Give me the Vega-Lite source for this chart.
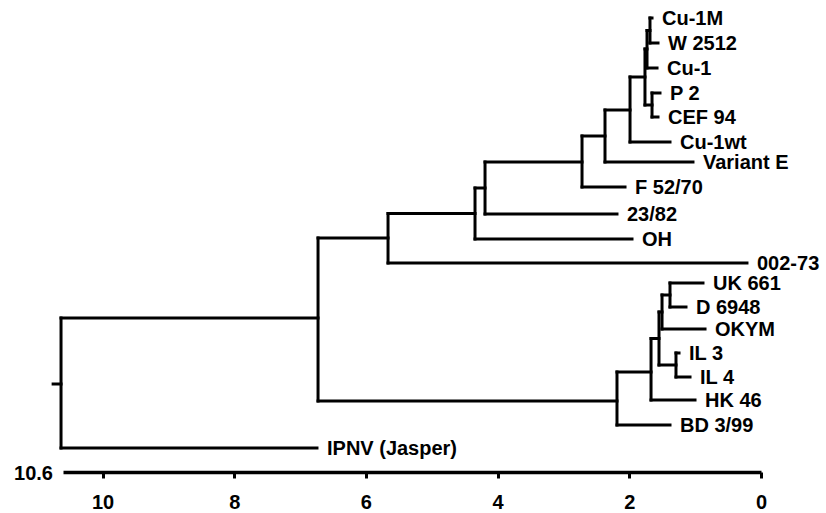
{
  "$schema": "https://vega.github.io/schema/vega-lite/v6.json",
  "width": 698,
  "height": 472,
  "autosize": {"type": "none"},
  "padding": {"left": 63, "top": 0, "right": 65, "bottom": 41},
  "background": "white",
  "config": {"view": {"stroke": null}},
  "datasets": {
    "segments": [
      {"x": 1.686, "x2": 1.686, "y": 18, "y2": 43},
      {"x": 1.686, "x2": 1.655, "y": 18, "y2": 18},
      {"x": 1.686, "x2": 1.564, "y": 43, "y2": 43},
      {"x": 1.731, "x2": 1.731, "y": 30.5, "y2": 68},
      {"x": 1.731, "x2": 1.686, "y": 30.5, "y2": 30.5},
      {"x": 1.731, "x2": 1.579, "y": 68, "y2": 68},
      {"x": 1.655, "x2": 1.655, "y": 93, "y2": 117},
      {"x": 1.655, "x2": 1.534, "y": 93, "y2": 93},
      {"x": 1.655, "x2": 1.564, "y": 117, "y2": 117},
      {"x": 1.762, "x2": 1.762, "y": 49, "y2": 105},
      {"x": 1.762, "x2": 1.731, "y": 49, "y2": 49},
      {"x": 1.762, "x2": 1.655, "y": 105, "y2": 105},
      {"x": 1.989, "x2": 1.989, "y": 77, "y2": 142},
      {"x": 1.989, "x2": 1.762, "y": 77, "y2": 77},
      {"x": 1.989, "x2": 1.382, "y": 142, "y2": 142},
      {"x": 2.369, "x2": 2.369, "y": 110, "y2": 162},
      {"x": 2.369, "x2": 1.989, "y": 110, "y2": 110},
      {"x": 2.369, "x2": 1.033, "y": 162, "y2": 162},
      {"x": 2.718, "x2": 2.718, "y": 136, "y2": 187},
      {"x": 2.718, "x2": 2.369, "y": 136, "y2": 136},
      {"x": 2.718, "x2": 2.065, "y": 187, "y2": 187},
      {"x": 4.191, "x2": 4.191, "y": 162, "y2": 214},
      {"x": 4.191, "x2": 2.718, "y": 162, "y2": 162},
      {"x": 4.191, "x2": 2.187, "y": 214, "y2": 214},
      {"x": 4.343, "x2": 4.343, "y": 188, "y2": 239},
      {"x": 4.343, "x2": 4.191, "y": 188, "y2": 188},
      {"x": 4.343, "x2": 1.959, "y": 239, "y2": 239},
      {"x": 5.664, "x2": 5.664, "y": 213.5, "y2": 263},
      {"x": 5.664, "x2": 4.343, "y": 213.5, "y2": 213.5},
      {"x": 5.664, "x2": 0.213, "y": 263, "y2": 263},
      {"x": 1.382, "x2": 1.382, "y": 283, "y2": 307},
      {"x": 1.382, "x2": 0.881, "y": 283, "y2": 283},
      {"x": 1.382, "x2": 1.139, "y": 307, "y2": 307},
      {"x": 1.503, "x2": 1.503, "y": 295, "y2": 329},
      {"x": 1.503, "x2": 1.382, "y": 295, "y2": 295},
      {"x": 1.503, "x2": 0.85, "y": 329, "y2": 329},
      {"x": 1.291, "x2": 1.291, "y": 353, "y2": 377},
      {"x": 1.291, "x2": 1.245, "y": 353, "y2": 353},
      {"x": 1.291, "x2": 1.078, "y": 377, "y2": 377},
      {"x": 1.549, "x2": 1.549, "y": 312, "y2": 365},
      {"x": 1.549, "x2": 1.503, "y": 312, "y2": 312},
      {"x": 1.549, "x2": 1.291, "y": 365, "y2": 365},
      {"x": 1.67, "x2": 1.67, "y": 338.5, "y2": 400},
      {"x": 1.67, "x2": 1.549, "y": 338.5, "y2": 338.5},
      {"x": 1.67, "x2": 1.002, "y": 400, "y2": 400},
      {"x": 2.187, "x2": 2.187, "y": 372, "y2": 425},
      {"x": 2.187, "x2": 1.67, "y": 372, "y2": 372},
      {"x": 2.187, "x2": 1.382, "y": 425, "y2": 425},
      {"x": 6.727, "x2": 6.727, "y": 238, "y2": 401},
      {"x": 6.727, "x2": 5.664, "y": 238, "y2": 238},
      {"x": 6.727, "x2": 2.187, "y": 401, "y2": 401},
      {"x": 10.63, "x2": 10.63, "y": 318, "y2": 448},
      {"x": 10.63, "x2": 6.727, "y": 318, "y2": 318},
      {"x": 10.63, "x2": 6.743, "y": 448, "y2": 448},
      {"x": 10.75, "x2": 10.63, "y": 384, "y2": 384}
    ],
    "leaves": [
      {"name": "Cu-1M", "x": 1.655, "y": 18},
      {"name": "W 2512", "x": 1.564, "y": 43},
      {"name": "Cu-1", "x": 1.579, "y": 68},
      {"name": "P 2", "x": 1.534, "y": 93},
      {"name": "CEF 94", "x": 1.564, "y": 117},
      {"name": "Cu-1wt", "x": 1.382, "y": 142},
      {"name": "Variant E", "x": 1.033, "y": 162},
      {"name": "F 52/70", "x": 2.065, "y": 187},
      {"name": "23/82", "x": 2.187, "y": 214},
      {"name": "OH", "x": 1.959, "y": 239},
      {"name": "002-73", "x": 0.213, "y": 263},
      {"name": "UK 661", "x": 0.881, "y": 283},
      {"name": "D 6948", "x": 1.139, "y": 307},
      {"name": "OKYM", "x": 0.85, "y": 329},
      {"name": "IL 3", "x": 1.245, "y": 353},
      {"name": "IL 4", "x": 1.078, "y": 377},
      {"name": "HK 46", "x": 1.002, "y": 400},
      {"name": "BD 3/99", "x": 1.382, "y": 425},
      {"name": "IPNV (Jasper)", "x": 6.743, "y": 448}
    ],
    "axisstart": [{"name": "10.6", "x": 10.6, "y": 472}]
  },
  "layer": [
    {
      "data": {"name": "segments"},
      "mark": {"type": "rule", "color": "black", "strokeWidth": 3, "strokeCap": "square"},
      "encoding": {
        "x": {
          "field": "x", "type": "quantitative",
          "scale": {"domain": [0, 10.6], "reverse": true, "nice": false, "zero": false},
          "axis": {
            "title": null, "grid": false, "values": [10, 8, 6, 4, 2, 0], "format": "d",
            "domainColor": "black", "domainWidth": 3.5, "domainCap": "butt",
            "tickColor": "black", "tickWidth": 3, "tickSize": 6,
            "labelFont": "Liberation Sans", "labelFontWeight": "bold", "labelFontSize": 20,
            "labelColor": "black", "labelPadding": 14, "labelFlush": false
          }
        },
        "x2": {"field": "x2"},
        "y": {
          "field": "y", "type": "quantitative",
          "scale": {"domain": [0, 472], "reverse": true, "nice": false, "zero": false},
          "axis": null
        },
        "y2": {"field": "y2"}
      }
    },
    {
      "data": {"name": "leaves"},
      "mark": {"type": "text", "align": "left", "baseline": "middle", "dx": 10, "dy": 1,
               "font": "Liberation Sans", "fontWeight": "bold", "fontSize": 20, "color": "black"},
      "encoding": {
        "x": {"field": "x", "type": "quantitative"},
        "y": {"field": "y", "type": "quantitative"},
        "text": {"field": "name"}
      }
    },
    {
      "data": {"name": "axisstart"},
      "mark": {"type": "text", "align": "right", "baseline": "middle", "dx": -10, "dy": 2,
               "font": "Liberation Sans", "fontWeight": "bold", "fontSize": 20, "color": "black"},
      "encoding": {
        "x": {"field": "x", "type": "quantitative"},
        "y": {"field": "y", "type": "quantitative"},
        "text": {"field": "name"}
      }
    }
  ]
}
